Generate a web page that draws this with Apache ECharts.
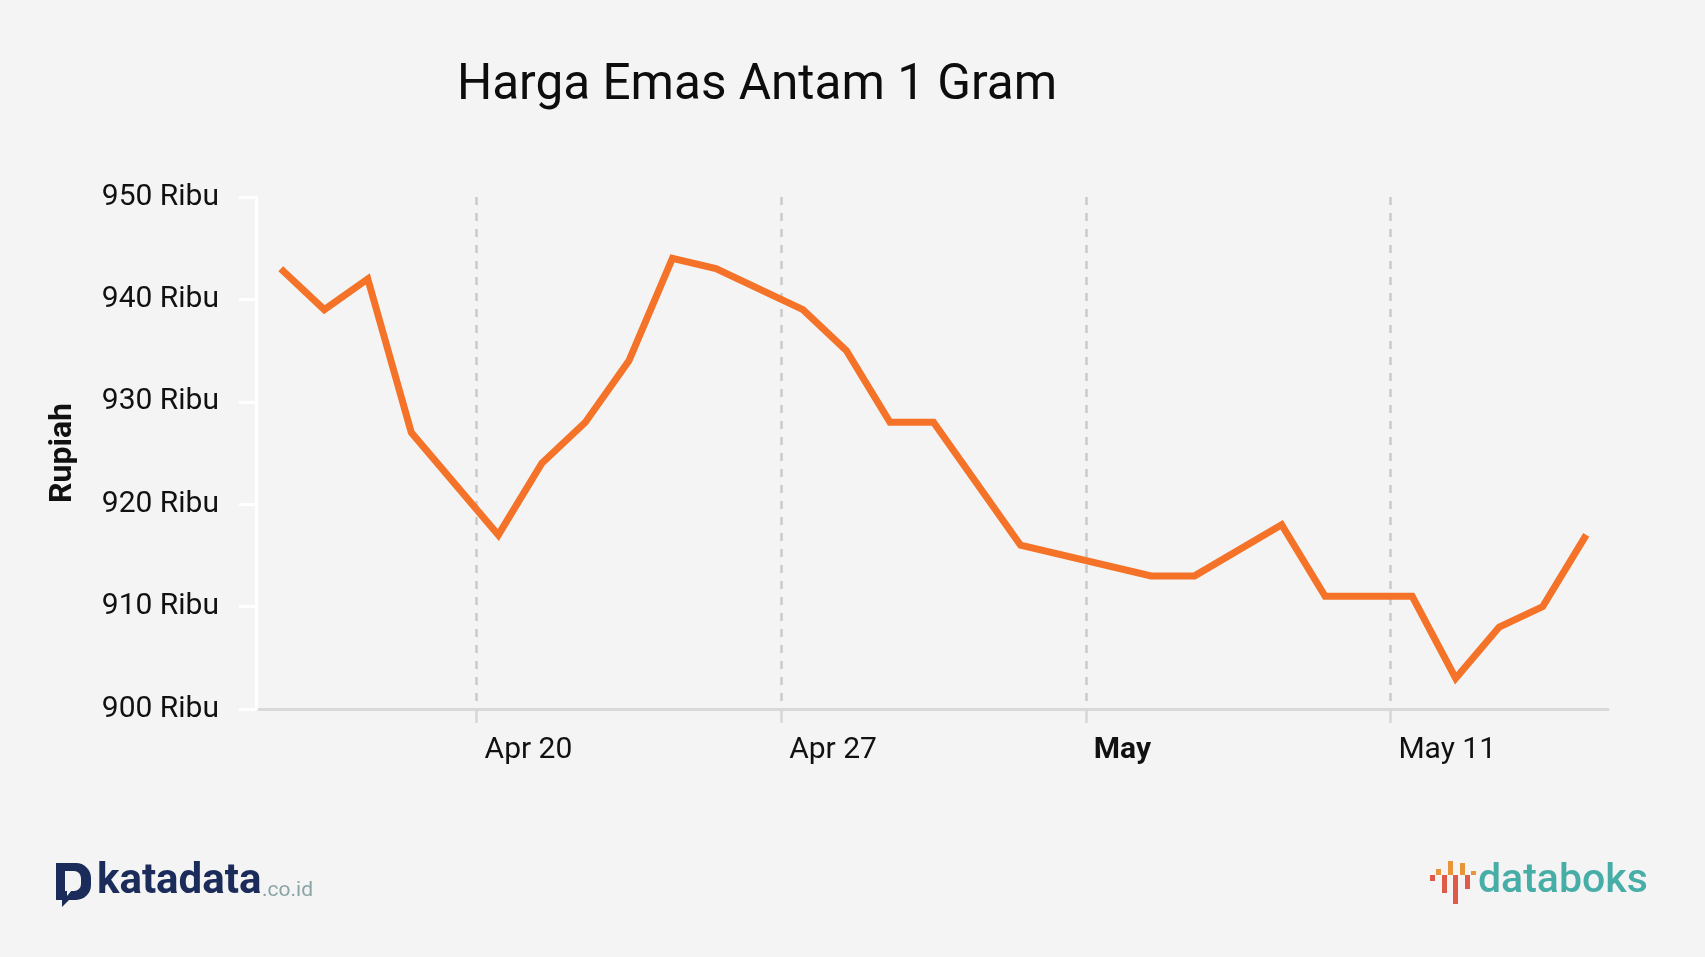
<!DOCTYPE html>
<html>
<head>
<meta charset="utf-8">
<script src="https://cdn.jsdelivr.net/npm/echarts@6/dist/echarts.min.js"></script>
<style>
html,body{margin:0;padding:0;background:#f4f4f4;}
#chart{width:1705px;height:957px;}
</style>
</head>
<body>
<div id="chart"></div>
<script>
// Daily categories (Apr 15 – May 15)
const dates = ['Apr 15','Apr 16','Apr 17','Apr 18','Apr 19','Apr 20','Apr 21','Apr 22','Apr 23','Apr 24',
  'Apr 25','Apr 26','Apr 27','Apr 28','Apr 29','Apr 30','May 1','May 2','May 3','May 4',
  'May 5','May 6','May 7','May 8','May 9','May 10','May 11','May 12','May 13','May 14','May 15'];
// Price in thousand rupiah (null = no observation; line connects across)
const prices = [943, 939, 942, 927, null, 917, 924, 928, 934, 944,
  943, null, 939, 935, 928, 928, null, 916, null, null,
  913, 913, null, 918, 911, 911, 911, 903, 908, 910, 917];
// Weekly tick dates and their labels
const tickDates = ['Apr 20', 'Apr 27', 'May 4', 'May 11'];
const tickLabels = ['Apr 20', 'Apr 27', 'May', 'May 11'];
const yTicks = [900, 910, 920, 930, 940, 950];

const seriesData = prices.map((v, i) => [i, v]);
const tickIdx = tickDates.map(d => dates.indexOf(d) - 0.5);

const chart = echarts.init(document.getElementById('chart'));
chart.setOption({
  backgroundColor: '#f4f4f4',
  animation: false,
  textStyle: { fontFamily: 'Roboto' },
  grid: { left: 259, right: 97, top: 197, bottom: 248 },
  graphic: [
    { type: 'text', x: 757, y: 87, style: { text: 'Harga Emas Antam 1 Gram', fill: '#0d0d0d',
      font: '49.5px Roboto', textAlign: 'center', textVerticalAlign: 'middle' } },
    // katadata logo
    { type: 'rect', shape: { x: 56, y: 863, width: 35, height: 37, r: [0, 15, 15, 0] }, style: { fill: '#1c2c5a' } },
    { type: 'polygon', shape: { points: [[62, 899], [62, 907], [70, 899]] }, style: { fill: '#1c2c5a' } },
    { type: 'rect', shape: { x: 65, y: 871, width: 16, height: 20, r: [0, 7, 7, 0] }, style: { fill: '#f4f4f4' } },
    { type: 'polygon', shape: { points: [[67, 890], [67, 896], [72, 890]] }, style: { fill: '#f4f4f4' } },
    { type: 'text', x: 97, y: 882, style: { text: 'katadata', fill: '#1c2c5a', font: 'bold 42px Roboto',
      textVerticalAlign: 'middle' } },
    { type: 'text', x: 262, y: 891, style: { text: '.co.id', fill: '#8ba4a6', font: '21px Roboto',
      textVerticalAlign: 'middle' } },
    // databoks logo
    { type: 'group', children: [
      { type: 'rect', shape: { x: 1430, y: 875, width: 5, height: 6 }, style: { fill: '#e05a4a' } },
      { type: 'rect', shape: { x: 1436, y: 869, width: 5, height: 6 }, style: { fill: '#e8953a' } },
      { type: 'rect', shape: { x: 1442, y: 875, width: 5, height: 18 }, style: { fill: '#e05a4a' } },
      { type: 'rect', shape: { x: 1448, y: 861, width: 5, height: 14 }, style: { fill: '#e8953a' } },
      { type: 'rect', shape: { x: 1453, y: 875, width: 5, height: 29 }, style: { fill: '#e05a4a' } },
      { type: 'rect', shape: { x: 1460, y: 863, width: 5, height: 12 }, style: { fill: '#e8953a' } },
      { type: 'rect', shape: { x: 1465, y: 875, width: 5, height: 14 }, style: { fill: '#e05a4a' } },
      { type: 'rect', shape: { x: 1471, y: 871, width: 5, height: 4 }, style: { fill: '#e8953a' } }
    ]},
    { type: 'text', x: 1478, y: 882, style: { text: 'databoks', fill: '#47ada7', font: '500 41px Roboto',
      textVerticalAlign: 'middle' } }
  ],
  xAxis: {
    type: 'value',
    min: -0.5,
    max: dates.length - 0.5,
    axisLine: { show: true, onZero: false, lineStyle: { color: '#d9d9d9', width: 3 } },
    axisTick: { show: true, customValues: tickIdx, length: 14, lineStyle: { color: '#d6d6d6', width: 2.5 } },
    splitLine: { show: true, lineStyle: { color: '#c9c9c9', width: 2.5, type: [8, 8] } },
    axisLabel: {
      customValues: tickIdx,
      align: 'left',
      margin: 26,
      padding: [0, 0, 0, 8],
      fontSize: 30,
      color: '#111',
      formatter: function (v) {
        const k = tickIdx.indexOf(v);
        if (k < 0) return '';
        const t = tickLabels[k];
        return t.indexOf(' ') < 0 ? '{b|' + t + '}' : t;
      },
      rich: { b: { fontWeight: 'bold', fontSize: 30, color: '#111', fontFamily: 'Roboto' } }
    }
  },
  yAxis: {
    type: 'value',
    min: yTicks[0],
    max: yTicks[yTicks.length - 1],
    interval: 10,
    offset: 3,
    name: 'Rupiah',
    nameLocation: 'middle',
    nameGap: 177,
    nameTextStyle: { fontSize: 32, fontWeight: 'bold', color: '#111' },
    axisLine: { show: true, onZero: false, lineStyle: { color: '#ffffff', width: 3 } },
    axisTick: { show: true, length: 17, lineStyle: { color: '#ffffff', width: 3 } },
    splitLine: { show: false },
    axisLabel: { margin: 37, fontSize: 30, color: '#111', padding: [3, 0, 0, 0], formatter: '{value} Ribu' }
  },
  series: [{
    type: 'line',
    data: seriesData,
    connectNulls: true,
    showSymbol: false,
    symbol: 'none',
    lineStyle: { color: '#f47328', width: 7, join: 'miter', cap: 'butt' }
  }]
});
</script>
</body>
</html>
